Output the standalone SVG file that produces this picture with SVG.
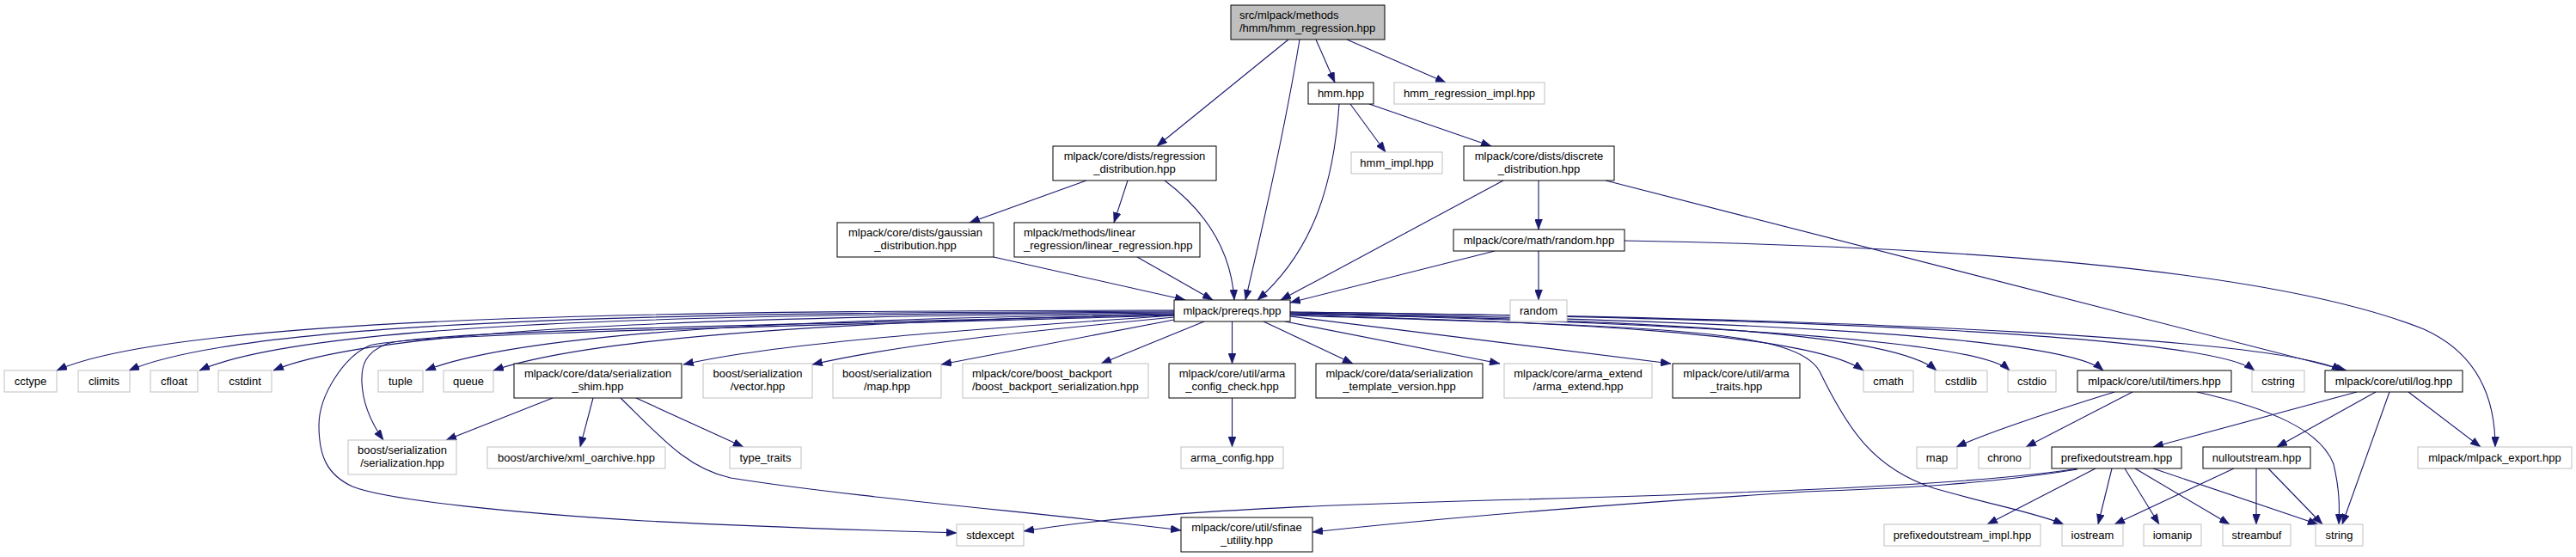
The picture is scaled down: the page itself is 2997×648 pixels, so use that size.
<svg xmlns="http://www.w3.org/2000/svg" width="2997" height="648" viewBox="0 0 2997 648">
<style>
.n rect{fill:#fff;stroke:#000;stroke-width:1}
.u rect{fill:#fff;stroke:#bfbfbf;stroke-width:1}
.r rect{fill:#bfbfbf;stroke:#000;stroke-width:1}
text{font-family:"Liberation Sans",Arial,sans-serif;font-size:13px;fill:#000;text-anchor:middle}
text.l{text-anchor:start}
#edges path{fill:none;stroke:#191970;stroke-width:1.1;marker-end:url(#ah)}
</style>
<defs>
<marker id="ah" viewBox="0 0 12 9" refX="12" refY="4.5" markerWidth="12" markerHeight="9" orient="auto" markerUnits="userSpaceOnUse"><path d="M0,0 L12,4.5 L0,9 z" fill="#191970" stroke="#191970" stroke-width="0.5"/></marker>
</defs>
<rect width="2997" height="648" fill="#fff"/>
<g id="edges">
<path d="M1499,46 L1346,170"/>
<path d="M1512,46 C1495,150 1470,260 1449,349"/>
<path d="M1531,46 L1553,96"/>
<path d="M1567,46 L1682,96"/>
<path d="M1571,121 L1612,177"/>
<path d="M1593,121 L1735,170"/>
<path d="M1558,121 C1552,210 1530,290 1463,349"/>
<path d="M1264,210 L1128,259"/>
<path d="M1312,210 L1296,259"/>
<path d="M1355,210 C1395,240 1432,285 1436,349"/>
<path d="M1156,299 L1379,349"/>
<path d="M1323,299 L1411,349"/>
<path d="M1749,210 L1490,349"/>
<path d="M1790,210 L1790,267"/>
<path d="M1868,210 L2730,431"/>
<path d="M1790,292 L1790,349"/>
<path d="M1890,280 C2450,290 2700,335 2820,383 C2880,410 2903,460 2903,520"/>
<path d="M1739,292 L1501,352"/>
<path d="M1366,361 C900,362 220,362 66,431"/>
<path d="M1366,362 C900,364 300,366 150,431"/>
<path d="M1366,363 C900,366 370,370 232,431"/>
<path d="M1366,364 C950,368 450,375 318,431"/>
<path d="M1366,365 C1000,370 620,382 495,431"/>
<path d="M1366,366 C1050,372 700,388 574,431"/>
<path d="M1366,367 C1100,385 900,400 795,424"/>
<path d="M1366,369 C1200,385 1050,400 945,424"/>
<path d="M1366,372 L1095,424"/>
<path d="M1401,374 L1281,423"/>
<path d="M1433.5,374 L1433.5,423"/>
<path d="M1470,374 L1574,423"/>
<path d="M1495,374 L1745,423"/>
<path d="M1501,368 L1944,423"/>
<path d="M1501,366 C1800,375 2100,385 2168,431"/>
<path d="M1501,365 C1900,372 2200,385 2253,431"/>
<path d="M1501,365 C1950,375 2300,395 2338,431"/>
<path d="M1501,364 C2000,372 2400,390 2447,431"/>
<path d="M1501,363 C2100,370 2570,390 2623,431"/>
<path d="M1501,363 C2200,370 2650,395 2725,431"/>
<path d="M1501,367 C1950,380 2090,385 2117,432 C2150,500 2180,545 2250,568 C2320,588 2370,597 2401,610"/>
<path d="M1366,366 C950,377 500,384 450,400 C425,410 420,425 421,445 C422,470 432,492 446,512"/>
<path d="M1366,367 C950,379 470,388 430,402 C400,415 371,460 371,495 C371,530 380,552 410,566 C450,582 600,597 750,606 C900,614 1050,618 1113,620"/>
<path d="M643,463 L519,512"/>
<path d="M690,463 L675,520"/>
<path d="M740,463 L865,520"/>
<path d="M722,463 C770,510 800,545 850,556 C1000,580 1250,600 1374,617"/>
<path d="M1433.5,463 L1433.5,520"/>
<path d="M2460,456 C2400,475 2320,500 2276,520"/>
<path d="M2481,456 L2357,520"/>
<path d="M2556,456 C2640,475 2700,500 2715,540 C2722,570 2722,590 2721,610"/>
<path d="M2742,456 L2505,520"/>
<path d="M2764,456 L2649,520"/>
<path d="M2780,456 L2725,610"/>
<path d="M2802,456 L2886,520"/>
<path d="M2438,545 L2312,610"/>
<path d="M2457,545 L2441,610"/>
<path d="M2472,545 L2512,610"/>
<path d="M2484,545 L2594,610"/>
<path d="M2505,545 L2697,610"/>
<path d="M2417,545 C2300,565 2000,575 1700,583 C1450,590 1300,600 1191,618"/>
<path d="M2417,546 C2300,565 2200,568 2100,572 C1900,585 1700,600 1527,619"/>
<path d="M2599,545 L2460,610"/>
<path d="M2625,545 L2625,610"/>
<path d="M2639,545 L2702,610"/>
</g>
<g id="root" class="r"><rect x="1432" y="6" width="179" height="40"/><text class="l" x="1442" y="22">src/mlpack/methods</text><text class="l" x="1442" y="37">/hmm/hmm_regression.hpp</text></g>
<g id="hmm" class="n"><rect x="1522" y="96" width="76" height="25"/><text x="1560" y="113">hmm.hpp</text></g>
<g id="hmm_regression_impl" class="u"><rect x="1622" y="96" width="175" height="25"/><text x="1709.5" y="113">hmm_regression_impl.hpp</text></g>
<g id="regression_distribution" class="n"><rect x="1225" y="170" width="190" height="40"/><text x="1320" y="186">mlpack/core/dists/regression</text><text x="1320" y="201">_distribution.hpp</text></g>
<g id="hmm_impl" class="u"><rect x="1572" y="177" width="106" height="25"/><text x="1625" y="194">hmm_impl.hpp</text></g>
<g id="discrete_distribution" class="n"><rect x="1703" y="170" width="175" height="40"/><text x="1790.5" y="186">mlpack/core/dists/discrete</text><text x="1790.5" y="201">_distribution.hpp</text></g>
<g id="gaussian_distribution" class="n"><rect x="974" y="259" width="182" height="40"/><text x="1065" y="275">mlpack/core/dists/gaussian</text><text x="1065" y="290">_distribution.hpp</text></g>
<g id="linear_regression" class="n"><rect x="1180" y="259" width="216" height="40"/><text class="l" x="1191" y="275">mlpack/methods/linear</text><text class="l" x="1191" y="290">_regression/linear_regression.hpp</text></g>
<g id="random_hpp" class="n"><rect x="1691" y="267" width="199" height="25"/><text x="1790.5" y="284">mlpack/core/math/random.hpp</text></g>
<g id="prereqs" class="n"><rect x="1366" y="349" width="135" height="25"/><text x="1433.5" y="366">mlpack/prereqs.hpp</text></g>
<g id="random" class="u"><rect x="1757" y="349" width="66" height="25"/><text x="1790" y="366">random</text></g>
<g id="cctype" class="u"><rect x="5" y="431" width="61" height="25"/><text x="35.5" y="448">cctype</text></g>
<g id="climits" class="u"><rect x="91" y="431" width="60" height="25"/><text x="121" y="448">climits</text></g>
<g id="cfloat" class="u"><rect x="175" y="431" width="55" height="25"/><text x="202.5" y="448">cfloat</text></g>
<g id="cstdint" class="u"><rect x="254" y="431" width="62" height="25"/><text x="285" y="448">cstdint</text></g>
<g id="tuple" class="u"><rect x="440" y="431" width="52" height="25"/><text x="466" y="448">tuple</text></g>
<g id="queue" class="u"><rect x="516" y="431" width="58" height="25"/><text x="545" y="448">queue</text></g>
<g id="serialization_shim" class="n"><rect x="598" y="423" width="195" height="40"/><text x="695.5" y="439">mlpack/core/data/serialization</text><text x="695.5" y="454">_shim.hpp</text></g>
<g id="bs_vector" class="u"><rect x="818" y="423" width="127" height="40"/><text x="881.5" y="439">boost/serialization</text><text x="881.5" y="454">/vector.hpp</text></g>
<g id="bs_map" class="u"><rect x="969" y="423" width="126" height="40"/><text x="1032" y="439">boost/serialization</text><text x="1032" y="454">/map.hpp</text></g>
<g id="boost_backport" class="u"><rect x="1120" y="423" width="216" height="40"/><text class="l" x="1131" y="439">mlpack/core/boost_backport</text><text class="l" x="1131" y="454">/boost_backport_serialization.hpp</text></g>
<g id="arma_config_check" class="n"><rect x="1360" y="423" width="147" height="40"/><text x="1433.5" y="439">mlpack/core/util/arma</text><text x="1433.5" y="454">_config_check.hpp</text></g>
<g id="serialization_template_version" class="n"><rect x="1531" y="423" width="194" height="40"/><text x="1628" y="439">mlpack/core/data/serialization</text><text x="1628" y="454">_template_version.hpp</text></g>
<g id="arma_extend" class="u"><rect x="1750" y="423" width="172" height="40"/><text x="1836" y="439">mlpack/core/arma_extend</text><text x="1836" y="454">/arma_extend.hpp</text></g>
<g id="arma_traits" class="n"><rect x="1946" y="423" width="148" height="40"/><text x="2020" y="439">mlpack/core/util/arma</text><text x="2020" y="454">_traits.hpp</text></g>
<g id="cmath" class="u"><rect x="2168" y="431" width="58" height="25"/><text x="2197" y="448">cmath</text></g>
<g id="cstdlib" class="u"><rect x="2251" y="431" width="61" height="25"/><text x="2281.5" y="448">cstdlib</text></g>
<g id="cstdio" class="u"><rect x="2336" y="431" width="56" height="25"/><text x="2364" y="448">cstdio</text></g>
<g id="timers" class="n"><rect x="2417" y="431" width="179" height="25"/><text x="2506.5" y="448">mlpack/core/util/timers.hpp</text></g>
<g id="cstring" class="u"><rect x="2620" y="431" width="61" height="25"/><text x="2650.5" y="448">cstring</text></g>
<g id="log" class="n"><rect x="2705" y="431" width="160" height="25"/><text x="2785" y="448">mlpack/core/util/log.hpp</text></g>
<g id="bs_serialization" class="u"><rect x="405" y="512" width="126" height="40"/><text x="468" y="528">boost/serialization</text><text x="468" y="543">/serialization.hpp</text></g>
<g id="xml_oarchive" class="u"><rect x="567" y="520" width="207" height="25"/><text x="670.5" y="537">boost/archive/xml_oarchive.hpp</text></g>
<g id="type_traits" class="u"><rect x="849" y="520" width="83" height="25"/><text x="890.5" y="537">type_traits</text></g>
<g id="arma_config" class="u"><rect x="1374" y="520" width="119" height="25"/><text x="1433.5" y="537">arma_config.hpp</text></g>
<g id="map" class="u"><rect x="2230" y="520" width="47" height="25"/><text x="2253.5" y="537">map</text></g>
<g id="chrono" class="u"><rect x="2302" y="520" width="60" height="25"/><text x="2332" y="537">chrono</text></g>
<g id="prefixedoutstream" class="n"><rect x="2387" y="520" width="151" height="25"/><text x="2462.5" y="537">prefixedoutstream.hpp</text></g>
<g id="nulloutstream" class="n"><rect x="2563" y="520" width="125" height="25"/><text x="2625.5" y="537">nulloutstream.hpp</text></g>
<g id="mlpack_export" class="u"><rect x="2813" y="520" width="179" height="25"/><text x="2902.5" y="537">mlpack/mlpack_export.hpp</text></g>
<g id="stdexcept" class="u"><rect x="1113" y="610" width="78" height="25"/><text x="1152" y="627">stdexcept</text></g>
<g id="sfinae_utility" class="n"><rect x="1374" y="602" width="153" height="40"/><text x="1450.5" y="618">mlpack/core/util/sfinae</text><text x="1450.5" y="633">_utility.hpp</text></g>
<g id="prefixedoutstream_impl" class="u"><rect x="2192" y="610" width="182" height="25"/><text x="2283" y="627">prefixedoutstream_impl.hpp</text></g>
<g id="iostream" class="u"><rect x="2399" y="610" width="71" height="25"/><text x="2434.5" y="627">iostream</text></g>
<g id="iomanip" class="u"><rect x="2494" y="610" width="67" height="25"/><text x="2527.5" y="627">iomanip</text></g>
<g id="streambuf" class="u"><rect x="2586" y="610" width="79" height="25"/><text x="2625.5" y="627">streambuf</text></g>
<g id="string" class="u"><rect x="2694" y="610" width="55" height="25"/><text x="2721.5" y="627">string</text></g>
</svg>
